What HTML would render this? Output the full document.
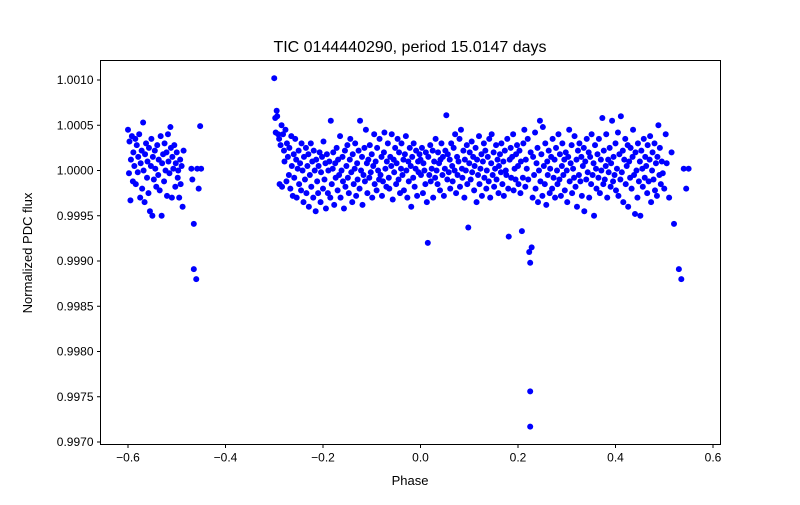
<!DOCTYPE html>
<html><head><meta charset="utf-8"><style>
body{margin:0;background:#fff;}
svg text{font-family:"Liberation Sans","DejaVu Sans",sans-serif;fill:#000;}
</style></head><body>
<svg id="chart" width="800" height="500">
<rect width="800" height="500" fill="#fff"/>
<g id="points"></g>
<rect x="100.5" y="60.5" width="620" height="384" fill="none" stroke="#000" stroke-width="1"/>
<g id="xticks"></g>
<g id="yticks"></g>
<text x="410" y="52" font-size="16" text-anchor="middle">TIC 0144440290, period 15.0147 days</text>
<text x="410" y="485" font-size="13" text-anchor="middle">Phase</text>
<text x="32" y="253" font-size="13" text-anchor="middle" transform="rotate(-90 32 253)">Normalized PDC flux</text>
</svg>
<script>
const xTicks=[-0.6,-0.4,-0.2,0.0,0.2,0.4,0.6];
const xTickLabels=["−0.6","−0.4","−0.2","0.0","0.2","0.4","0.6"];
const yTicks=[0.9970,0.9975,0.9980,0.9985,0.9990,0.9995,1.0000,1.0005,1.0010];
const yTickLabels=["0.9970","0.9975","0.9980","0.9985","0.9990","0.9995","1.0000","1.0005","1.0010"];
// phase values
const phase=[
-0.600,-0.598,-0.597,-0.595,-0.594,-0.592,-0.590,-0.589,-0.587,-0.585,-0.584,-0.582,-0.580,-0.579,-0.577,-0.575,-0.574,-0.572,-0.571,-0.569,
-0.568,-0.566,-0.565,-0.563,-0.561,-0.560,-0.558,-0.557,-0.555,-0.553,-0.552,-0.550,-0.549,-0.547,-0.545,-0.544,-0.542,-0.540,-0.538,-0.537,
-0.535,-0.533,-0.531,-0.530,-0.528,-0.526,-0.525,-0.523,-0.521,-0.520,-0.518,-0.517,-0.515,-0.513,-0.512,-0.510,-0.509,-0.507,-0.505,-0.503,
-0.502,-0.500,-0.498,-0.497,-0.495,-0.493,-0.492,-0.490,-0.488,-0.486,-0.470,-0.468,-0.465,-0.465,-0.460,-0.458,-0.455,-0.452,-0.450,
-0.300,-0.298,-0.297,-0.295,-0.294,-0.292,-0.290,-0.289,-0.287,-0.285,-0.284,-0.282,-0.280,-0.279,-0.277,-0.275,-0.274,-0.272,-0.270,-0.269,
-0.267,-0.265,-0.264,-0.262,-0.260,-0.259,-0.257,-0.255,-0.254,-0.252,-0.250,-0.249,-0.247,-0.245,-0.244,-0.242,-0.240,-0.239,-0.237,-0.235,
-0.234,-0.232,-0.230,-0.229,-0.227,-0.225,-0.224,-0.222,-0.220,-0.219,-0.217,-0.215,-0.214,-0.212,-0.210,-0.209,-0.207,-0.205,-0.204,-0.202,
-0.200,-0.199,-0.197,-0.195,-0.194,-0.192,-0.190,-0.189,-0.187,-0.185,-0.184,-0.182,-0.180,-0.179,-0.177,-0.175,-0.174,-0.172,-0.170,-0.169,
-0.167,-0.165,-0.164,-0.162,-0.160,-0.159,-0.157,-0.155,-0.154,-0.152,-0.150,-0.149,-0.147,-0.145,-0.144,-0.142,-0.140,-0.139,-0.137,-0.135,
-0.134,-0.132,-0.130,-0.129,-0.127,-0.125,-0.124,-0.122,-0.120,-0.119,-0.117,-0.115,-0.114,-0.112,-0.110,-0.109,-0.107,-0.105,-0.104,-0.102,
-0.100,-0.099,-0.097,-0.095,-0.094,-0.092,-0.090,-0.089,-0.087,-0.085,-0.084,-0.082,-0.080,-0.079,-0.077,-0.075,-0.074,-0.072,-0.070,-0.069,
-0.067,-0.065,-0.064,-0.062,-0.060,-0.059,-0.057,-0.055,-0.054,-0.052,-0.050,-0.049,-0.047,-0.045,-0.044,-0.042,-0.040,-0.039,-0.037,-0.035,
-0.034,-0.032,-0.030,-0.029,-0.027,-0.025,-0.024,-0.022,-0.020,-0.019,-0.017,-0.015,-0.014,-0.012,-0.010,-0.009,-0.007,-0.005,-0.004,-0.002,
0.000,0.001,0.003,0.005,0.006,0.008,0.010,0.011,0.013,0.015,0.016,0.018,0.020,0.021,0.023,0.025,0.026,0.028,0.030,0.031,
0.033,0.035,0.036,0.038,0.040,0.041,0.043,0.045,0.046,0.048,0.050,0.051,0.053,0.055,0.056,0.058,0.060,0.061,0.063,0.065,
0.066,0.068,0.070,0.071,0.073,0.075,0.076,0.078,0.080,0.081,0.083,0.085,0.086,0.088,0.090,0.091,0.093,0.095,0.096,0.098,
0.100,0.101,0.103,0.105,0.106,0.108,0.110,0.111,0.113,0.115,0.116,0.118,0.120,0.121,0.123,0.125,0.126,0.128,0.130,0.131,
0.133,0.135,0.136,0.138,0.140,0.141,0.143,0.145,0.146,0.148,0.150,0.151,0.153,0.155,0.156,0.158,0.160,0.161,0.163,0.165,
0.166,0.168,0.170,0.171,0.173,0.175,0.176,0.178,0.180,0.181,0.183,0.185,0.186,0.188,0.190,0.191,0.193,0.195,0.196,0.198,
0.200,0.201,0.203,0.205,0.206,0.208,0.210,0.211,0.213,0.215,0.216,0.218,0.220,0.221,0.223,0.225,0.225,0.225,0.226,0.228,
0.230,0.231,0.233,0.235,0.236,0.238,0.240,0.241,0.243,0.245,0.246,0.248,0.250,0.251,0.253,0.255,0.256,0.258,0.260,0.261,
0.263,0.265,0.266,0.268,0.270,0.271,0.273,0.275,0.276,0.278,0.280,0.281,0.283,0.285,0.286,0.288,0.290,0.291,0.293,0.295,
0.296,0.298,0.300,0.301,0.303,0.305,0.306,0.308,0.310,0.311,0.313,0.315,0.316,0.318,0.320,0.321,0.323,0.325,0.326,0.328,
0.330,0.331,0.333,0.335,0.336,0.338,0.340,0.341,0.343,0.345,0.346,0.348,0.350,0.351,0.353,0.355,0.356,0.358,0.360,0.361,
0.363,0.365,0.366,0.368,0.370,0.371,0.373,0.375,0.376,0.378,0.380,0.381,0.383,0.385,0.386,0.388,0.390,0.391,0.393,0.395,
0.396,0.398,0.400,0.401,0.403,0.405,0.406,0.408,0.410,0.411,0.413,0.415,0.416,0.418,0.420,0.421,0.423,0.425,0.426,0.428,
0.430,0.431,0.433,0.435,0.436,0.438,0.440,0.441,0.443,0.445,0.446,0.448,0.450,0.451,0.453,0.455,0.456,0.458,0.460,0.461,
0.463,0.465,0.466,0.468,0.470,0.471,0.473,0.475,0.476,0.478,0.480,0.481,0.483,0.485,0.486,0.488,0.490,0.491,0.493,0.495,
0.497,0.500,0.503,0.505,0.510,0.515,0.520,0.530,0.535,0.540,0.545,0.550
];
// flux offsets from 1.0, in units of 1e-5
const fluxOffset=[
45,-3,32,-33,12,38,-12,20,5,35,-15,28,-2,15,40,-30,8,22,-20,53,
0,-35,18,30,-8,10,-25,25,-45,5,35,-50,15,-10,22,2,-18,28,-5,12,
-22,38,-50,8,18,-12,30,0,20,-28,40,10,-3,48,25,-30,15,2,28,-18,
8,20,-8,0,-30,12,-15,5,-40,22,2,-10,-59,-109,-120,2,-20,49,2,
102,58,42,66,60,40,35,-15,28,50,-18,40,22,10,45,-12,30,15,-5,25,
-20,38,5,-28,18,-8,35,12,-30,2,22,-15,8,-22,30,0,-35,15,-10,25,
-25,5,18,-40,-5,30,-18,10,-30,22,0,-45,12,-12,-25,5,20,-35,-2,15,
-20,32,-10,8,-42,18,-25,0,10,-30,55,-15,2,20,-38,8,-8,25,-22,12,
-5,38,-30,0,15,-12,-42,22,-18,5,28,-8,-25,12,35,-2,-35,18,-15,2,
30,-28,8,-10,22,-20,55,0,15,-38,-5,25,-12,45,8,-25,12,-8,28,-2,
18,-30,5,40,-15,10,-22,25,0,-10,35,-5,15,-28,-12,20,42,2,-18,10,
30,-8,-20,15,5,40,-32,12,-2,25,-15,8,35,-10,20,-25,2,30,-5,12,
-22,18,38,0,-30,10,-12,25,5,-40,15,-8,30,-18,2,22,-28,10,-2,18,
12,-5,25,-25,8,0,-15,20,-35,-80,15,-5,28,-12,2,22,-30,10,-8,35,
0,-15,20,8,-22,12,30,-5,15,-28,2,22,61,-10,18,-2,12,-20,30,5,
-12,25,0,40,-25,15,-5,10,35,-18,45,2,-8,22,-30,12,0,28,-15,-63,
8,20,-10,32,-2,15,-22,5,25,-35,12,-5,38,-15,2,18,-28,10,30,-8,
22,-20,0,15,-12,35,-30,8,40,-5,20,-18,2,28,-10,12,-25,5,18,-2,
30,-15,10,-28,22,0,-5,35,-20,-73,12,25,-8,15,40,-22,2,-10,18,28,
5,-15,22,-25,10,-67,-8,30,45,-18,12,2,35,-10,-90,-244,-283,-102,20,-85,
-30,15,-5,42,-20,8,25,-35,0,55,-12,18,-28,48,5,-15,30,-38,10,-5,
22,-25,2,15,-20,35,-8,12,-30,25,0,-15,40,-10,18,-28,5,30,-5,12,
-22,20,0,-35,15,45,-12,8,28,-25,2,-8,38,-18,12,-40,22,-5,30,-12,
15,-28,5,25,-45,10,-10,35,-2,20,-30,15,-15,40,-5,8,-50,28,2,-20,
18,-8,35,-25,12,0,58,-15,22,-10,5,40,-30,12,-2,25,-18,8,55,-12,
15,-5,30,-22,2,42,-28,18,-10,60,-2,22,-35,12,35,-15,5,28,-40,10,
-8,25,-20,15,45,-5,-48,20,0,-30,30,-12,10,-50,22,2,-18,35,-8,15,
5,-25,28,-12,12,38,-35,0,20,-10,30,-22,8,-28,15,50,-5,25,-15,10,
-3,-20,40,8,-30,20,-59,-109,-120,2,-20,2
];
const ns="http://www.w3.org/2000/svg";
const X0=100.5,X1=720.5,Y0=60.5,Y1=444.5;
function xScale(v){return 420.5+v*487.5;}
function yScale(v){return 170.5-(v-1.0)*90500;}
const pts=document.getElementById('points');
for(let i=0;i<phase.length;i++){
  const c=document.createElementNS(ns,'circle');
  c.setAttribute('cx',xScale(phase[i]));
  c.setAttribute('cy',yScale(1+fluxOffset[i]*1e-5));
  c.setAttribute('r',3);
  c.setAttribute('fill','#0000ff');
  
  
  pts.appendChild(c);
}
const xg=document.getElementById('xticks');
xTicks.forEach((t,i)=>{
  const x=xScale(t);
  const l=document.createElementNS(ns,'line');
  l.setAttribute('x1',x);l.setAttribute('x2',x);l.setAttribute('y1',Y1);l.setAttribute('y2',Y1+3.5);
  l.setAttribute('stroke','#000');
  
  
  xg.appendChild(l);
  const tx=document.createElementNS(ns,'text');
  tx.setAttribute('x',x);tx.setAttribute('y',Y1+17);tx.setAttribute('font-size','12');tx.setAttribute('text-anchor','middle');
  tx.textContent=xTickLabels[i];
  
  
  xg.appendChild(tx);
});
const yg=document.getElementById('yticks');
yTicks.forEach((t,i)=>{
  const y=yScale(t);
  const l=document.createElementNS(ns,'line');
  l.setAttribute('x1',X0-3.5);l.setAttribute('x2',X0);l.setAttribute('y1',y);l.setAttribute('y2',y);
  l.setAttribute('stroke','#000');
  
  
  yg.appendChild(l);
  const tx=document.createElementNS(ns,'text');
  tx.setAttribute('x',X0-7);tx.setAttribute('y',y+4);tx.setAttribute('font-size','12');tx.setAttribute('text-anchor','end');
  tx.textContent=yTickLabels[i];
  
  
  yg.appendChild(tx);
});
</script>
</body></html>
